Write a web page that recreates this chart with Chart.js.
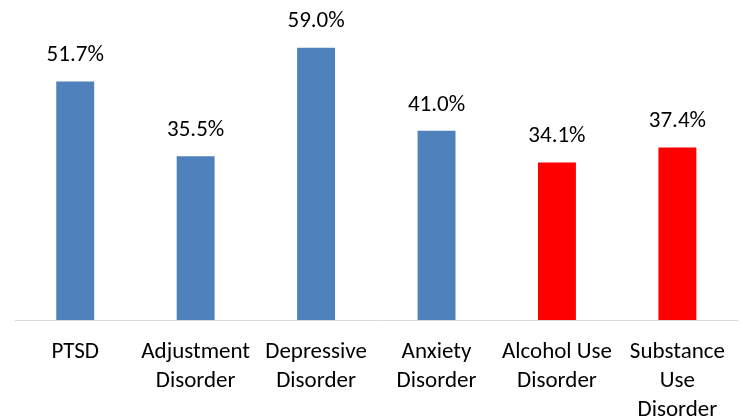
<!DOCTYPE html>
<html>
<head>
<meta charset="utf-8">
<script src="https://cdn.jsdelivr.net/npm/chart.js@4"></script>
<style>
  html, body { margin: 0; padding: 0; background: #fff; }
  #wrap { width: 743px; height: 417px; }
</style>
</head>
<body>
<div id="wrap"><canvas id="chart"></canvas></div>
<script>
const categories = [
  ['PTSD'],
  ['Adjustment', 'Disorder'],
  ['Depressive', 'Disorder'],
  ['Anxiety', 'Disorder'],
  ['Alcohol Use', 'Disorder'],
  ['Substance', 'Use', 'Disorder']
]
const values = [51.7, 35.5, 59.0, 41.0, 34.1, 37.4]
const barColors = ['#4f81bd', '#4f81bd', '#4f81bd', '#4f81bd', '#ff0000', '#ff0000']

const fontFamily = "Carlito, 'Open Sans', 'Noto Sans', sans-serif"

// value labels above bars
const valueLabels = {
  id: 'valueLabels',
  afterDatasetsDraw(chart) {
    const ctx = chart.ctx
    const meta = chart.getDatasetMeta(0)
    ctx.save()
    ctx.font = '23px ' + fontFamily
    ctx.fillStyle = '#000'
    ctx.textAlign = 'center'
    ctx.textBaseline = 'middle'
    meta.data.forEach((bar, i) => {
      ctx.fillText(values[i].toFixed(1) + '%', bar.x, bar.y - 26)
    })
    ctx.restore()
  }
}

new Chart(document.getElementById('chart'), {
  type: 'bar',
  data: {
    labels: categories,
    datasets: [{
      data: values,
      backgroundColor: barColors,
      borderWidth: 0,
      categoryPercentage: 1,
      barPercentage: 0.315
    }]
  },
  options: {
    responsive: true,
    maintainAspectRatio: false,
    animation: false,
    layout: { padding: { left: 15, right: 1, top: 20, bottom: 0 } },
    plugins: {
      legend: { display: false },
      tooltip: { enabled: false }
    },
    scales: {
      x: {
        grid: { display: false, drawTicks: false },
        border: { color: '#d9d9d9', width: 1 },
        ticks: {
          color: '#000',
          font: { family: fontFamily, size: 23, lineHeight: 1.25 },
          padding: 18,
          maxRotation: 0,
          autoSkip: false
        },
        afterFit(scale) { scale.height = 97 }
      },
      y: {
        display: false,
        min: 0,
        max: 65
      }
    }
  },
  plugins: [valueLabels]
})
</script>
</body>
</html>
